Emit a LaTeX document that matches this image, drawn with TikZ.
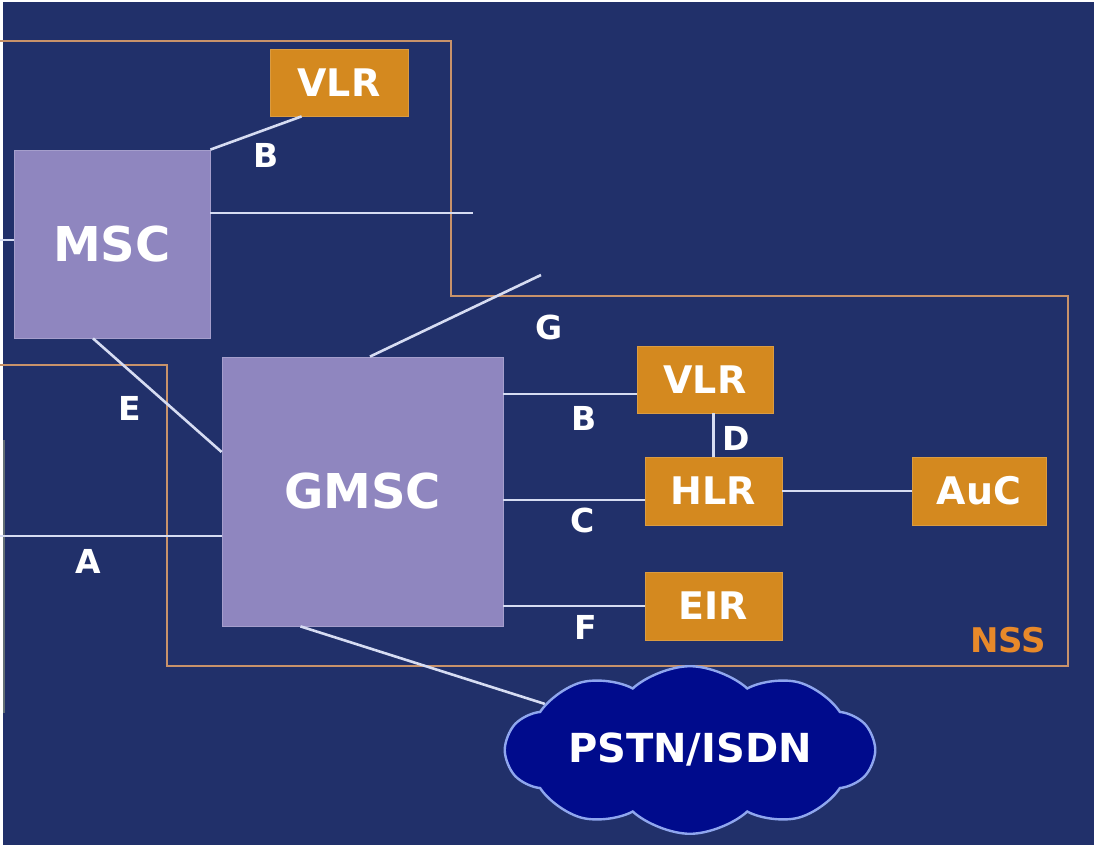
\documentclass[tikz,border=0pt]{standalone}
\usepackage{fontspec}
\setmainfont{DejaVu Sans}
\usetikzlibrary{shapes.symbols}
\definecolor{navy}{HTML}{21306A}
\definecolor{lilac}{HTML}{8F86BF}
\definecolor{amber}{HTML}{D4891F}
\definecolor{tan}{HTML}{C8926A}
\definecolor{wire}{HTML}{D6DCF2}
\definecolor{deepblue}{HTML}{000B8C}
\definecolor{cloudedge}{HTML}{8FA6EE}
\definecolor{nsstext}{HTML}{E8892A}
\begin{document}
\begin{tikzpicture}[x=0.5pt,y=-0.5pt,
  switchbox/.style={fill=lilac,draw=lilac!80!white,inner sep=0pt,text=white,font=\fontsize{24}{28}\selectfont\bfseries},
  regbox/.style={fill=amber,draw=amber!85!white,inner sep=0pt,minimum width=68.5pt,minimum height=34pt,text=white,font=\fontsize{19}{22}\selectfont\bfseries},
  lbl/.style={text=white,inner sep=0pt,font=\fontsize{16.5}{19}\selectfont\bfseries},
  link/.style={draw=wire,line width=1.3pt},
  border/.style={draw=tan,line width=1.2pt}]
% page and background
\fill[white] (0,0) rectangle (1094,845);
\fill[navy] (3,2) rectangle (1094,845);
\useasboundingbox (0,0) rectangle (1094,845);
% NSS outline
\draw[border] (0,41) -- (451,41) -- (451,296) -- (1068,296) -- (1068,666) -- (167,666) -- (167,365) -- (0,365);
\draw[draw=gray!70!cyan!60!black,line width=1.2pt] (4,440) -- (4,713);
% switches
\node[switchbox,minimum width=98pt,minimum height=94pt] (msc) at (112,244) {MSC};
\node[switchbox,minimum width=140.5pt,minimum height=134.5pt] (gmsc) at (362.5,491.5) {GMSC};
% registers
\node[regbox,minimum width=69pt,minimum height=33.5pt] (vlr1) at (339,82.5) {VLR};
\node[regbox,minimum width=68pt,minimum height=33.5pt] (vlr2) at (705,379.5) {VLR};
\node[regbox] (hlr) at (713.5,491) {HLR};
\node[regbox,minimum width=67pt] (auc) at (979,491) {AuC};
\node[regbox] (eir) at (713.5,606) {EIR};
% free ends
\coordinate (mscin) at (0,240);
\coordinate (mscout) at (473,213);
\coordinate (gout) at (541,275);
\coordinate (ain) at (0,536);
% connectors
\draw[link] (mscin) -- ([yshift=2pt]msc.west);
\draw[link] (msc.north east) -- ([xshift=16pt]vlr1.south west);
\draw[link] ([yshift=15.5pt]msc.east) -- (mscout);
\draw[link] ([xshift=-9.5pt]msc.south) -- ([yshift=19.75pt]gmsc.west);
\draw[link] ([xshift=3.75pt]gmsc.north) -- (gout);
\draw[link] (ain) -- ([yshift=-22.25pt]gmsc.west);
\draw[link] ([yshift=-7.25pt]gmsc.east |- vlr2.west) -- ([yshift=-7.25pt]vlr2.west);
\draw[link] ([yshift=-4.5pt]gmsc.east |- hlr.west) -- ([yshift=-4.5pt]hlr.west);
\draw[link] (gmsc.east |- eir.west) -- (eir.west);
\draw[link] (hlr.north) -- (hlr.north |- vlr2.south);
\draw[link] (hlr.east) -- (auc.west);
% PSTN cloud
\node[cloud,cloud puffs=10,cloud puff arc=85,aspect=2.6,fill=deepblue,draw=cloudedge,line width=1.2pt,
  minimum width=184pt,minimum height=80pt,inner sep=0pt,text=white,font=\fontsize{20}{23}\selectfont\bfseries] (pstn) at (690,750) {PSTN/ISDN};
\draw[link] ([xshift=-31pt]gmsc.south) -- (pstn);
% interface labels
\node[lbl] (lb1) at (266,155) {B};
\node[lbl] (le) at (130,408) {E};
\node[lbl] (lg) at (549,327) {G};
\node[lbl] (la) at (88,561) {A};
\node[lbl] (lb2) at (584,418) {B};
\node[lbl] (ld) at (736,438) {D};
\node[lbl] (lc) at (583,520) {C};
\node[lbl] (lf) at (586,627) {F};
\node[lbl,text=nsstext,font=\fontsize{17}{20}\selectfont\bfseries] (nss) at (1008,640) {NSS};
\end{tikzpicture}
\end{document}
